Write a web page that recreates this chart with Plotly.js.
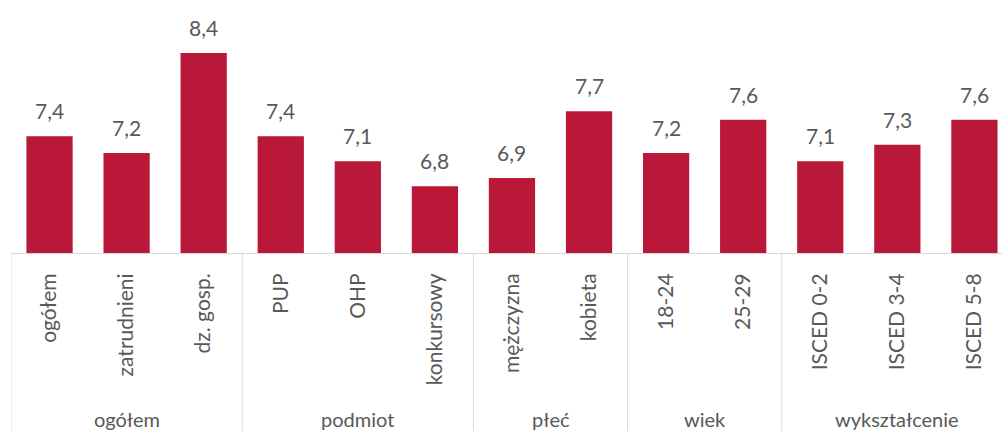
<!DOCTYPE html>
<html>
<head>
<meta charset="utf-8">
<script src="https://cdn.plot.ly/plotly-3.0.1.min.js"></script>
<style>html,body{margin:0;padding:0;background:#fff;}#chart{width:1002px;height:431px;}</style>
</head>
<body>
<div id="chart"></div>
<script>
var categories = ['ogółem','zatrudnieni','dz. gosp.','PUP','OHP','konkursowy','mężczyzna','kobieta','18-24','25-29','ISCED 0-2','ISCED 3-4','ISCED 5-8'];
var values = [7.4,7.2,8.4,7.4,7.1,6.8,6.9,7.7,7.2,7.6,7.1,7.3,7.6];
var groups = ['ogółem','podmiot','płeć','wiek','wykształcenie'];
var groupSizes = [3,3,2,2,3];

var textColor = '#595959';
var lineColor = '#D9D9D9';
var fontFamily = 'Lato, "Open Sans", sans-serif';

var idx = categories.map(function(_, i){ return i; });

var trace = {
  type: 'bar',
  x: idx,
  y: values,
  width: 0.6,
  marker: {color: '#B91838'},
  hoverinfo: 'none'
};

var annotations = [];
values.forEach(function(v, i){
  annotations.push({
    x: i, y: v, xref: 'x', yref: 'y',
    text: v.toFixed(1).replace('.', ','),
    showarrow: false, yanchor: 'bottom', xanchor: 'center', yshift: 11,
    font: {family: fontFamily, size: 21, color: textColor}
  });
});

var shapes = [];
var start = 0;
groups.forEach(function(g, gi){
  var n = groupSizes[gi];
  shapes.push({
    type: 'line', xref: 'x', yref: 'paper',
    x0: start - 0.5, x1: start - 0.5, y0: 0, y1: -0.72,
    line: {color: lineColor, width: 1}
  });
  annotations.push({
    x: start + (n - 1) / 2, y: -0.665, xref: 'x', yref: 'paper',
    text: g, showarrow: false, xanchor: 'center', yanchor: 'middle',
    font: {family: fontFamily, size: 20, color: textColor}
  });
  start += n;
});
shapes.push({
  type: 'line', xref: 'x', yref: 'paper',
  x0: start - 0.5, x1: start - 0.5, y0: 0, y1: -0.72,
  line: {color: lineColor, width: 1}
});

var layout = {
  width: 1002, height: 431,
  margin: {l: 11, r: 0, t: 3, b: 178},
  paper_bgcolor: '#fff', plot_bgcolor: '#fff',
  showlegend: false,
  xaxis: {
    range: [-0.5, 12.358],
    tickvals: idx, ticktext: categories,
    tickangle: -90,
    ticks: '',
    ticklabelstandoff: 11,
    showline: true, linecolor: lineColor, linewidth: 1,
    showgrid: false, zeroline: false,
    tickfont: {family: fontFamily, size: 21, color: textColor},
    fixedrange: true
  },
  yaxis: {
    range: [6, 9], visible: false, showgrid: false, zeroline: false, fixedrange: true
  },
  shapes: shapes,
  annotations: annotations
};

Plotly.newPlot('chart', [trace], layout, {displayModeBar: false, staticPlot: true});
</script>
</body>
</html>
